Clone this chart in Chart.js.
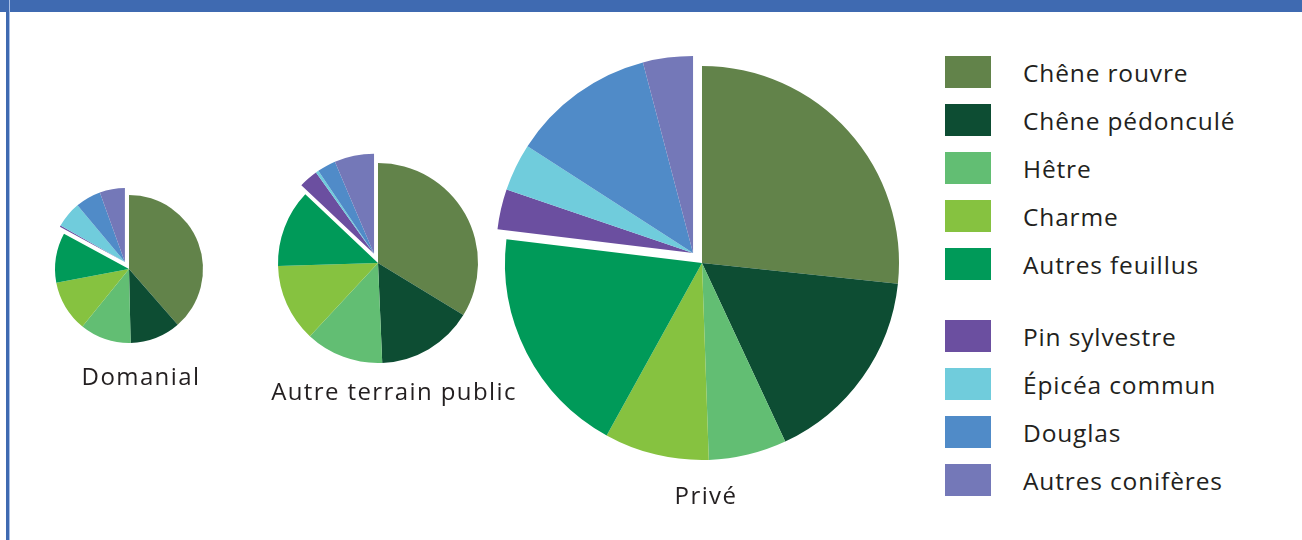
<!DOCTYPE html>
<html lang="fr">
<head>
<meta charset="utf-8">
<script src="https://cdn.jsdelivr.net/npm/chart.js"></script>
<style>
  body { margin: 0; background: #fff; font-family: "Open Sans", "Noto Sans", sans-serif; color: #231f20; }
  #page { position: relative; width: 1302px; height: 540px; overflow: hidden; }
  #bandeau { position: absolute; left: 0; top: 0; width: 1302px; height: 12px; background: #3f6ab1; }
  #bord { position: absolute; left: 6px; top: 0; width: 3px; height: 540px; background: #3f6ab1; border-right: 1px solid #a9bfe6; }
  .camembert { position: absolute; }
  .nom { position: absolute; font-size: 24px; letter-spacing: 1.4px; white-space: nowrap; transform: translate(-50%, -50%); }
  #legende { position: absolute; left: 945px; top: 0; }
  .ligne { position: absolute; left: 0; width: 340px; height: 32px; transform: translateY(-50%); }
  .carre { position: absolute; left: 0; top: 0; width: 46px; height: 32px; }
  .texte { position: absolute; left: 78px; top: 50%; transform: translateY(-50%); font-size: 24.5px; letter-spacing: 0.85px; white-space: nowrap; }
</style>
</head>
<body>
<div id="page">
  <div id="bandeau"></div>
  <div id="bord"></div>
  <canvas id="c-domanial" class="camembert"></canvas>
  <canvas id="c-public" class="camembert"></canvas>
  <canvas id="c-prive" class="camembert"></canvas>
  <div class="nom" style="left:141px; top:375px">Domanial</div>
  <div class="nom" style="left:394px; top:390px">Autre terrain public</div>
  <div class="nom" style="left:706px; top:494px">Privé</div>
  <div id="legende"></div>
</div>
<script>
// essences : 5 feuillus puis 4 conifères
const especes = ['Chêne rouvre', 'Chêne pédonculé', 'Hêtre', 'Charme', 'Autres feuillus',
                 'Pin sylvestre', 'Épicéa commun', 'Douglas', 'Autres conifères'];
const couleurs = ['#62834a', '#0d4d33', '#62be73', '#86c240', '#009a59',
                  '#6b4fa0', '#70ccdc', '#508bc8', '#7478b8'];
const premierConifere = 5;

// parts (%) par type de propriété
const domanial    = [38.6, 11.1, 11.2, 11.2, 10.9, 0.3, 5.7, 5.6, 5.5];
const autrePublic = [33.7, 15.6, 12.6, 12.6, 12.5, 3.1, 0.45, 3.0, 6.4];
const prive       = [26.7, 16.4, 6.4, 8.6, 18.9, 3.3, 3.9, 11.8, 4.1];

// décale tout le groupe des conifères ensemble
const decalageConiferes = {
  id: 'decalageConiferes',
  afterDatasetsUpdate(chart, args, opts) {
    const arcs = chart.getDatasetMeta(0).data;
    const debut = arcs[premierConifere].startAngle;
    const fin = arcs[arcs.length - 1].endAngle;
    const milieu = (debut + fin) / 2;
    const dx = Math.cos(milieu) * opts.distance;
    const dy = Math.sin(milieu) * opts.distance;
    for (let i = premierConifere; i < arcs.length; i++) {
      arcs[i].x += dx;
      arcs[i].y += dy;
    }
  }
};

function creerCamembert(id, valeurs, cx, cy, rayon, taille, distance) {
  const canvas = document.getElementById(id);
  canvas.style.left = (cx - taille / 2) + 'px';
  canvas.style.top = (cy - taille / 2) + 'px';
  canvas.style.width = taille + 'px';
  canvas.style.height = taille + 'px';
  canvas.width = taille;
  canvas.height = taille;
  return new Chart(canvas, {
    type: 'pie',
    data: {
      labels: especes,
      datasets: [{
        data: valeurs,
        backgroundColor: couleurs,
        borderWidth: 0,
        radius: rayon,
        clip: false
      }]
    },
    options: {
      responsive: false,
      animation: false,
      events: [],
      plugins: {
        legend: { display: false },
        tooltip: { enabled: false },
        decalageConiferes: { distance: distance }
      }
    },
    plugins: [decalageConiferes]
  });
}

creerCamembert('c-domanial', domanial, 129, 269, 74, 220, 8);
creerCamembert('c-public', autrePublic, 378, 263, 100, 260, 10);
creerCamembert('c-prive', prive, 702, 263, 197, 440, 13.5);

// légende
const legende = document.getElementById('legende');
especes.forEach((nom, i) => {
  const y = i < premierConifere ? 72 + i * 48 : 336 + (i - premierConifere) * 48;
  const ligne = document.createElement('div');
  ligne.className = 'ligne';
  ligne.style.top = y + 'px';
  const carre = document.createElement('div');
  carre.className = 'carre';
  carre.style.background = couleurs[i];
  const texte = document.createElement('div');
  texte.className = 'texte';
  texte.textContent = nom;
  ligne.appendChild(carre);
  ligne.appendChild(texte);
  legende.appendChild(ligne);
});
</script>
</body>
</html>
